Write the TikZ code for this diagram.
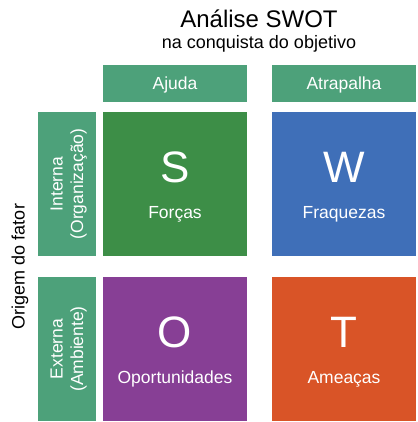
\documentclass[tikz,border=0pt]{standalone}
\usepackage{fontspec}
\setmainfont{Liberation Sans}
\usetikzlibrary{calc}
\definecolor{hdrgreen}{RGB}{77,161,122}
\definecolor{swotS}{RGB}{61,142,71}
\definecolor{swotW}{RGB}{63,111,184}
\definecolor{swotO}{RGB}{135,63,149}
\definecolor{swotT}{RGB}{217,84,39}
\begin{document}
\begin{tikzpicture}[x=1pt,y=-1pt,
  panel/.style={anchor=north west, inner sep=0pt, outer sep=0pt, draw=none},
  quad/.style={panel, minimum width=144pt, minimum height=144pt},
  hdr/.style={panel, fill=hdrgreen, minimum width=144pt, minimum height=37pt,
    text=white, font=\fontsize{17.5}{21}\selectfont, text height=12.5pt, text depth=0pt},
  sidebox/.style={panel, fill=hdrgreen, minimum width=58pt, minimum height=144pt},
  sidetext/.style={rotate=90, anchor=base, inner sep=0pt, text=white,
    font=\fontsize{17.5}{21}\selectfont},
  bigletter/.style={anchor=base, inner sep=0pt, text=white, font=\fontsize{44}{50}\selectfont},
  cellname/.style={anchor=base, inner sep=0pt, text=white, font=\fontsize{17.5}{21}\selectfont},
]
\useasboundingbox (0,0) rectangle (417,422);

% title
\node[anchor=base, inner sep=0pt, font=\fontsize{24}{28}\selectfont] (title) at (259,28) {Análise SWOT};
\node[anchor=base, inner sep=0pt, font=\fontsize{18}{22}\selectfont] (subtitle) at (259,49) {na conquista do objetivo};

% column headers
\node[hdr] (helps) at (103,65) {Ajuda};
\node[hdr] (hinders) at (272,65) {Atrapalha};

% row headers
\node[sidebox] (internal) at (38,112) {};
\node[sidebox] (external) at (38,277) {};
\node[sidetext] (intA) at ($(internal.center)+(-4.5,0)$) {Interna};
\node[sidetext] (intB) at ($(internal.center)+(16,0)$) {(Organização)};
\node[sidetext] (extA) at ($(external.center)+(-4.5,0)$) {Externa};
\node[sidetext] (extB) at ($(external.center)+(16,0)$) {(Ambiente)};

\node[rotate=90, anchor=base, inner sep=0pt, font=\fontsize{18}{21}\selectfont] (origin) at (24.5,266.5) {Origem do fator};

% quadrants
\node[quad, fill=swotS] (S) at (103,112) {};
\node[quad, fill=swotW] (W) at (272,112) {};
\node[quad, fill=swotO] (O) at (103,277) {};
\node[quad, fill=swotT] (T) at (272,277) {};

\foreach \q/\l/\t in {S/S/Forças, W/W/Fraquezas, O/O/Oportunidades, T/T/Ameaças}{
  \node[bigletter] (\q letter) at ($(\q.north)+(0,70)$) {\l};
  \node[cellname] (\q name) at ($(\q.north)+(0,106.5)$) {\t};
}
\end{tikzpicture}
\end{document}
